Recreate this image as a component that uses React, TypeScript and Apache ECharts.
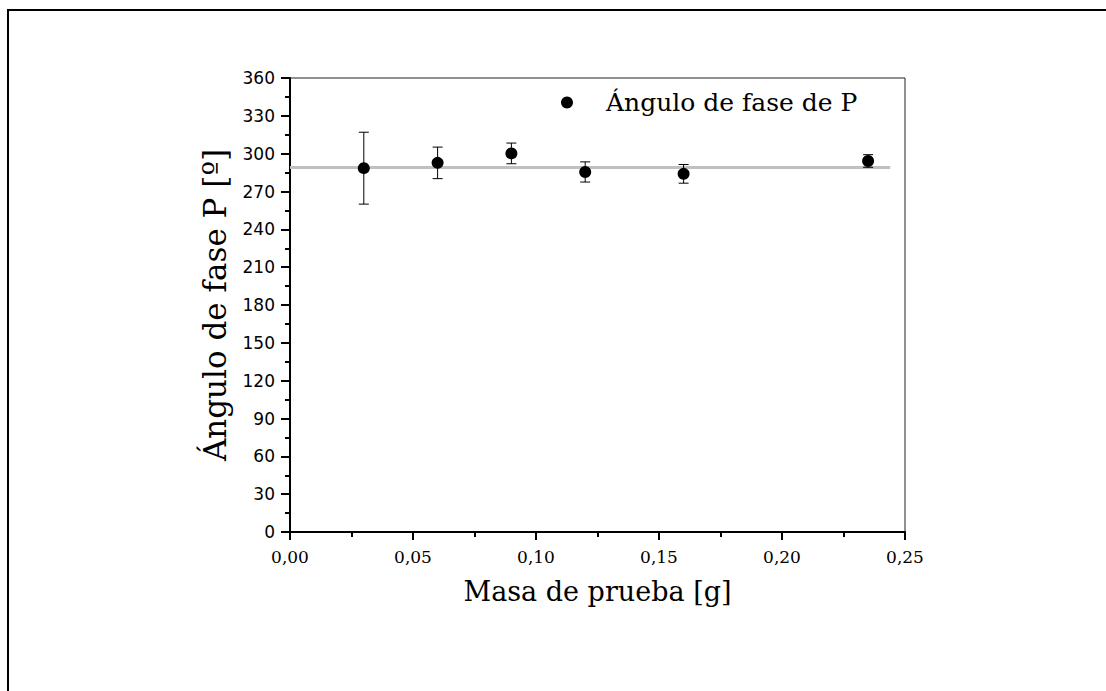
import React, { useEffect, useRef } from "react";
import * as echarts from "echarts";

// Test mass (g) and the measured phase angle of P (degrees) with its uncertainty
const massValues = [0.03, 0.06, 0.09, 0.12, 0.16, 0.235];
const phaseValues = [288.5, 292.7, 300.2, 285.5, 284.0, 294.2];
const phaseErrors = [28.5, 12.5, 8.2, 8.0, 7.4, 5.0];

// Mean phase angle drawn as a horizontal reference line
const meanPhase = 289;
const meanLineRange = [0, 0.244];

const xTicks = { min: 0, max: 0.25, interval: 0.05 };
const yTicks = { min: 0, max: 360, interval: 30 };

const seriesName = "Ángulo de fase de P";

export default function App() {
  const ref = useRef<HTMLDivElement>(null);

  useEffect(() => {
    if (!ref.current) return;
    const chart = echarts.init(ref.current, null, { renderer: "svg" });

    const points = massValues.map((m, i) => [m, phaseValues[i]]);
    const bars = massValues.map((m, i) => [
      m,
      phaseValues[i] - phaseErrors[i],
      phaseValues[i] + phaseErrors[i],
    ]);

    chart.setOption({
      animation: false,
      backgroundColor: "#ffffff",
      graphic: [
        {
          type: "rect",
          shape: { x: 8, y: 10, width: 1200, height: 800 },
          style: { fill: "none", stroke: "#000", lineWidth: 2 },
          silent: true,
        },
      ],
      legend: {
        data: [seriesName],
        left: 556,
        top: 85,
        icon: "circle",
        itemWidth: 12,
        itemHeight: 12,
        textStyle: {
          fontFamily: "DejaVu Serif",
          fontSize: 25,
          color: "#000",
          padding: [0, 0, 0, 28],
        },
      },
      grid: {
        left: 290,
        right: 1106 - 905,
        top: 78,
        bottom: 691 - 532,
        show: true,
        borderColor: "#222",
        borderWidth: 1,
      },
      xAxis: {
        type: "value",
        min: xTicks.min,
        max: xTicks.max,
        interval: xTicks.interval,
        name: "Masa de prueba [g]",
        nameLocation: "middle",
        nameGap: 46,
        nameTextStyle: { fontFamily: "DejaVu Serif", fontSize: 27, color: "#000" },
        axisLine: { onZero: false, lineStyle: { color: "#000", width: 2 } },
        axisTick: { inside: false, length: 8, lineStyle: { color: "#000", width: 2 } },
        minorTick: { show: true, splitNumber: 2, length: 5, lineStyle: { color: "#000", width: 2 } },
        splitLine: { show: false },
        axisLabel: {
          margin: 16,
          fontFamily: "DejaVu Serif",
          fontSize: 17,
          color: "#000",
          formatter: (v: number) => v.toFixed(2).replace(".", ","),
        },
      },
      yAxis: {
        type: "value",
        min: yTicks.min,
        max: yTicks.max,
        interval: yTicks.interval,
        name: "Ángulo de fase P [º]",
        nameLocation: "middle",
        nameGap: 60,
        nameRotate: 90,
        nameTextStyle: { fontFamily: "DejaVu Serif", fontSize: 31, color: "#000" },
        axisLine: { onZero: false, lineStyle: { color: "#000", width: 2 } },
        axisTick: { inside: false, length: 9, lineStyle: { color: "#000", width: 2 } },
        minorTick: { show: true, splitNumber: 2, length: 5, lineStyle: { color: "#000", width: 2 } },
        splitLine: { show: false },
        axisLabel: {
          margin: 15,
          fontFamily: "DejaVu Sans",
          fontSize: 17,
          color: "#000",
        },
      },
      series: [
        {
          name: "media",
          type: "line",
          data: meanLineRange.map((x) => [x, meanPhase]),
          symbol: "none",
          lineStyle: { color: "#c0c0c0", width: 3 },
          z: 1,
          silent: true,
        },
        {
          name: "error",
          type: "custom",
          data: bars,
          z: 2,
          silent: true,
          renderItem: (params: any, api: any) => {
            const x = api.value(0);
            const lo = api.coord([x, api.value(1)]);
            const hi = api.coord([x, api.value(2)]);
            const cap = 5;
            const style = { stroke: "#000", lineWidth: 1 };
            return {
              type: "group",
              children: [
                { type: "line", shape: { x1: lo[0], y1: lo[1], x2: hi[0], y2: hi[1] }, style },
                { type: "line", shape: { x1: lo[0] - cap, y1: lo[1], x2: lo[0] + cap, y2: lo[1] }, style },
                { type: "line", shape: { x1: hi[0] - cap, y1: hi[1], x2: hi[0] + cap, y2: hi[1] }, style },
              ],
            };
          },
        },
        {
          name: seriesName,
          type: "scatter",
          data: points,
          symbol: "circle",
          symbolSize: 12,
          itemStyle: { color: "#000", opacity: 1 },
          z: 3,
        },
      ],
    });

    return () => chart.dispose();
  }, []);

  return (
    <div
      ref={ref}
      style={{ position: "fixed", left: 0, top: 0, width: 1106, height: 691 }}
    />
  );
}
